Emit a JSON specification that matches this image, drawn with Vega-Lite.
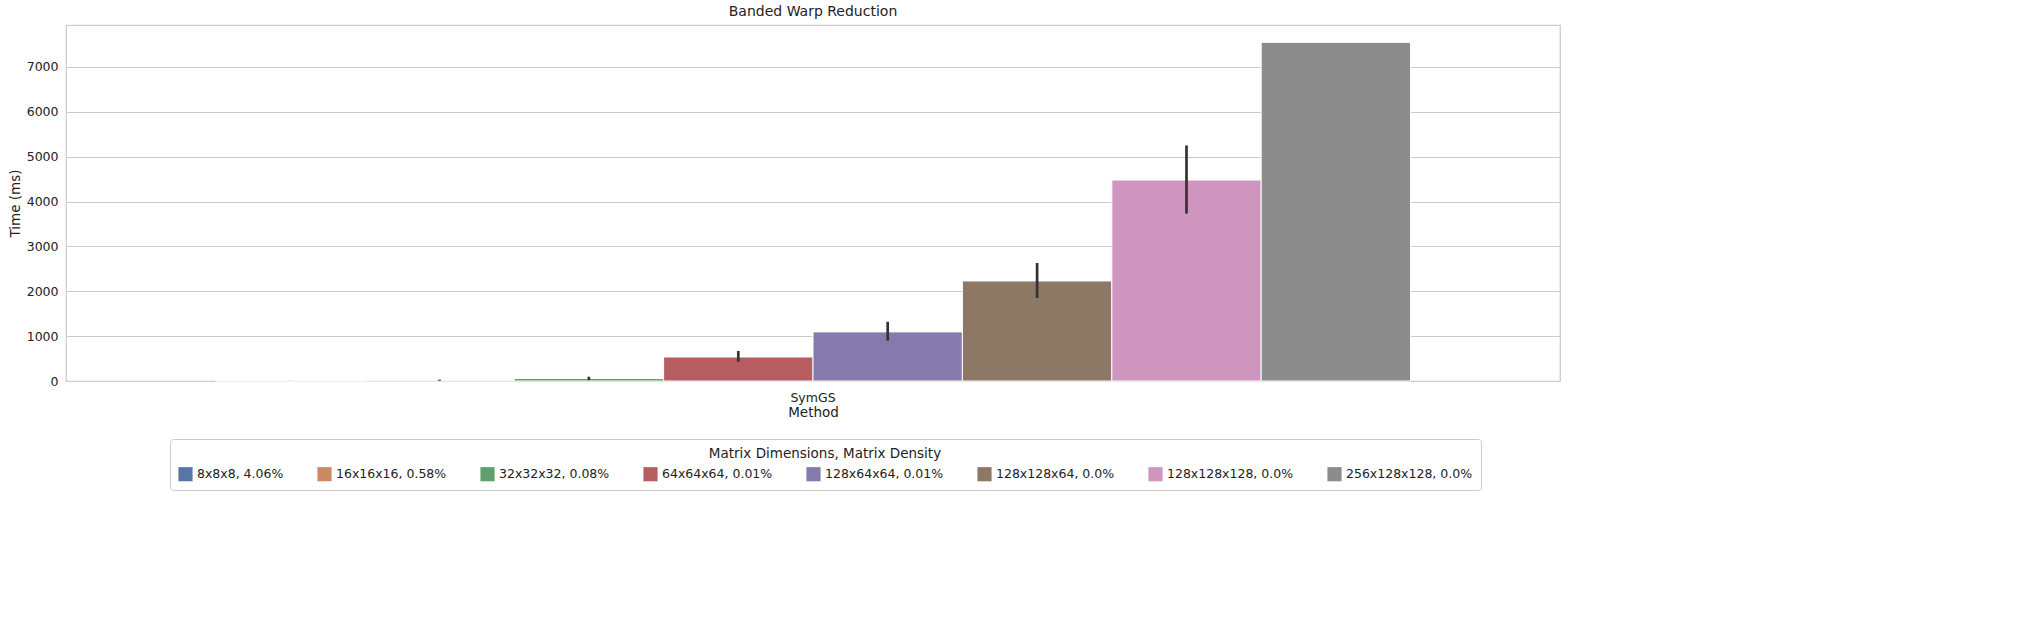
{
"$schema":"https://vega.github.io/schema/vega-lite/v6.json",
"autosize":"none",
"width":1494,"height":356,
"padding":{"left":66,"top":25,"right":472,"bottom":254},
"background":"white",
"title":{"text":"Banded Warp Reduction","fontSize":14,"fontWeight":"normal","font":"DejaVu Sans","color":"#222","offset":6},
"config":{"view":{"stroke":"#cccccc","strokeWidth":1.25},"font":"DejaVu Sans"},
"data":{"values":[
{"m":"SymGS","k":"8x8x8, 4.06%","o":0,"v":2,"lo":1,"hi":3},
{"m":"SymGS","k":"16x16x16, 0.58%","o":1,"v":15,"lo":5,"hi":30},
{"m":"SymGS","k":"32x32x32, 0.08%","o":2,"v":55,"lo":20,"hi":95},
{"m":"SymGS","k":"64x64x64, 0.01%","o":3,"v":535,"lo":430,"hi":670},
{"m":"SymGS","k":"128x64x64, 0.01%","o":4,"v":1095,"lo":900,"hi":1320},
{"m":"SymGS","k":"128x128x64, 0.0%","o":5,"v":2230,"lo":1850,"hi":2630},
{"m":"SymGS","k":"128x128x128, 0.0%","o":6,"v":4480,"lo":3730,"hi":5250},
{"m":"SymGS","k":"256x128x128, 0.0%","o":7,"v":7550,"lo":7550,"hi":7550}
]},
"encoding":{
"x":{"field":"m","type":"nominal","title":"Method","scale":{"paddingInner":0,"paddingOuter":0},
"axis":{"labelAngle":0,"labelFontSize":12.5,"titleFontSize":13.5,"titleFontWeight":"normal","labelColor":"#222","titleColor":"#222","domain":false,"ticks":false,"titlePadding":2,"labelPadding":10}},
"xOffset":{"field":"k","type":"nominal","sort":{"field":"o"},"scale":{"paddingInner":0,"paddingOuter":1}}
},
"layer":[
{"mark":{"type":"bar","stroke":"white","strokeWidth":1},
"encoding":{
"y":{"field":"v","type":"quantitative","title":"Time (ms)","scale":{"domain":[0,7936],"nice":false},
"axis":{"values":[0,1000,2000,3000,4000,5000,6000,7000],"format":"d","gridColor":"#cccccc","labelFontSize":12.5,"titleFontSize":13.5,"titleFontWeight":"normal","labelColor":"#222","titleColor":"#222","domain":false,"ticks":false,"labelPadding":8}},
"color":{"field":"k","type":"nominal","sort":{"field":"o"},"title":"Matrix Dimensions, Matrix Density",
"scale":{"range":["#5975a4","#cc8963","#5f9e6e","#b55d60","#857aab","#8d7866","#d095bf","#8c8c8c"]},
"legend":{"orient":"none","legendX":104,"legendY":414,"direction":"horizontal","columns":8,"symbolType":"square","symbolSize":200,"symbolStrokeWidth":0,"labelFontSize":12.5,"titleFontSize":13.5,"titleFontWeight":"normal","titleAnchor":"middle","titleLimit":0,"labelLimit":0,"titleColor":"#222","labelColor":"#222","columnPadding":33,"strokeColor":"#cccccc","padding":8,"cornerRadius":3,"titlePadding":6}}
}},
{"mark":{"type":"rule","color":"#333333","strokeWidth":2.7},
"encoding":{"y":{"field":"lo","type":"quantitative"},"y2":{"field":"hi"}}}
]
}
